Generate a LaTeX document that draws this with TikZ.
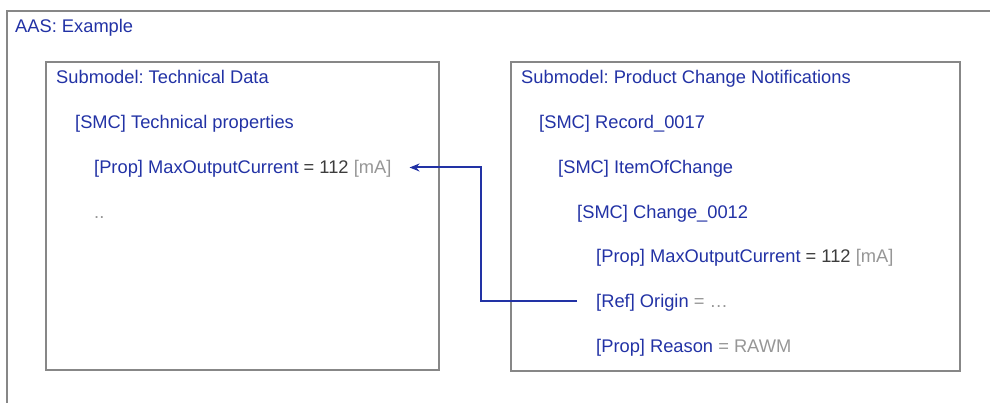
\documentclass[tikz,border=0pt]{standalone}
\usepackage{fontspec}
\setmainfont{Liberation Sans}
\usetikzlibrary{arrows.meta,calc}
\definecolor{aasblue}{RGB}{34,50,165}
\definecolor{boxgray}{RGB}{135,135,135}
\definecolor{valdark}{RGB}{60,60,60}
\definecolor{vallight}{RGB}{150,150,150}
\newcommand\valD[1]{\textcolor{valdark}{#1}}
\newcommand\valL[1]{\textcolor{vallight}{#1}}
\frenchspacing
\begin{document}
\begin{tikzpicture}[x=1pt,y=-1pt,
  box/.style={draw=boxgray, line width=2pt},
  txt/.style={anchor=base west, inner sep=0pt, font=\fontsize{18.3}{21}\selectfont, text=aasblue},
  conn/.style={draw=aasblue, line width=2pt, -{Stealth[length=10pt,width=8pt]}}]
\useasboundingbox (0,0) rectangle (990,403);
\clip (0,0) rectangle (990,403);
% outer AAS frame (runs off right/bottom)
\draw[box] (7,11) rectangle (1010,430);
\node[txt] (aas) at (15,33) {AAS: Example};
% left submodel
\draw[box] (46,62) rectangle (439,370);
\node[txt] (sm1) at (56,84) {Submodel: Technical Data};
\node[txt] (smc1) at (75,129) {[SMC] Technical properties};
\node[txt] (tgt) at (94,174) {[Prop] MaxOutputCurrent \valD{= 112} \valL{[mA]}};
\node[txt] (dots) at (94,219) {\valL{..}};
% right submodel
\draw[box] (511,62) rectangle (960,371);
\node[txt] (sm2) at (521,84) {Submodel: Product Change Notifications};
\node[txt] (rec) at (539,129) {[SMC] Record\_0017};
\node[txt] (item) at (558,174) {[SMC] ItemOfChange};
\node[txt] (chg) at (577,219) {[SMC] Change\_0012};
\node[txt] (prop2) at (596,263) {[Prop] MaxOutputCurrent \valD{= 112} \valL{[mA]}};
\node[txt] (ref) at (596,307) {[Ref] Origin \valL{= …}};
\node[txt] (reason) at (596,352) {[Prop] Reason \valL{= RAWM}};
% reference connector
\coordinate (src) at ([shift={(-19,-6.5)}]ref.base west);
\coordinate (dst) at ([shift={(18,-6.5)}]tgt.base east);
\coordinate (jx) at (481,0);
\draw[conn] (src) -- (src -| jx) |- (dst);
\end{tikzpicture}
\end{document}
